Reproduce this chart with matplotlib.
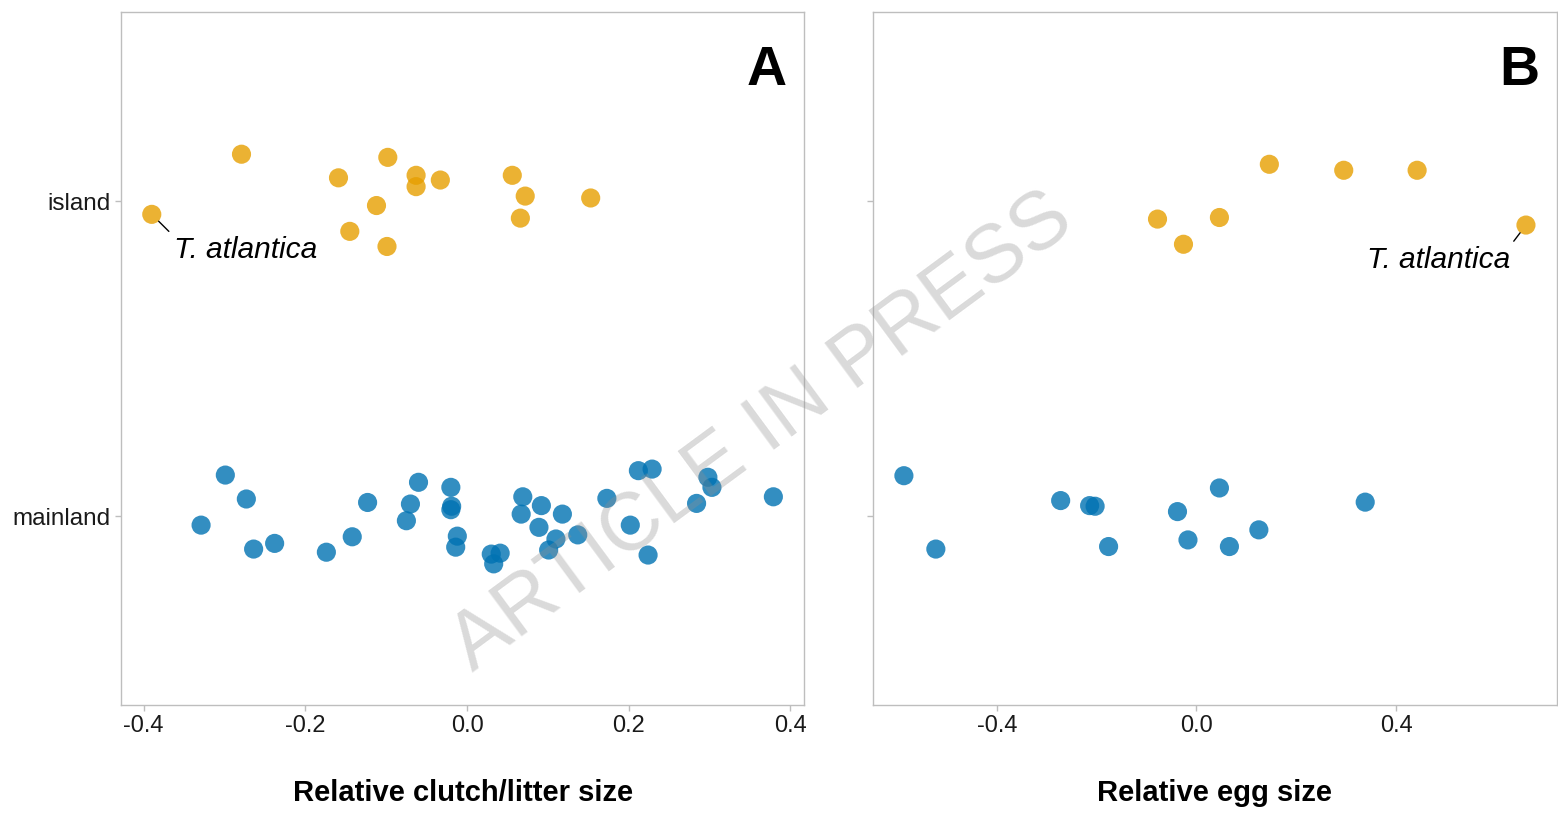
import matplotlib
matplotlib.use("Agg")
import matplotlib.pyplot as plt

plt.rcParams['font.family'] = ['Liberation Sans', 'DejaVu Sans']

# categories on the y axis (mainland = 1, island = 2)
categories = ['mainland', 'island']

# Panel A: relative clutch/litter size (x) with vertical jitter (y)
clutch_island_x = [-0.390, -0.279, -0.159, -0.098, -0.063, -0.063, -0.033,
                   -0.112, -0.145, -0.099, 0.056, 0.072, 0.066, 0.153]
clutch_island_y = [1.958, 2.149, 2.074, 2.139, 2.082, 2.046, 2.067,
                   1.986, 1.904, 1.856, 2.082, 2.016, 1.946, 2.010]
clutch_main_x = [-0.299, -0.273, -0.329, -0.264, -0.238, -0.174, -0.142, -0.123,
                 -0.060, -0.070, -0.075, -0.020, -0.019, -0.020, -0.012, -0.014,
                 0.030, 0.041, 0.033, 0.069, 0.067, 0.092, 0.089, 0.118,
                 0.110, 0.101, 0.137, 0.173, 0.202, 0.212, 0.229, 0.224,
                 0.284, 0.298, 0.303, 0.379]
clutch_main_y = [1.130, 1.054, 0.971, 0.895, 0.913, 0.885, 0.934, 1.043,
                 1.107, 1.038, 0.985, 1.091, 1.031, 1.020, 0.936, 0.901,
                 0.879, 0.882, 0.848, 1.061, 1.006, 1.033, 0.964, 1.006,
                 0.927, 0.892, 0.940, 1.056, 0.971, 1.144, 1.149, 0.876,
                 1.040, 1.123, 1.091, 1.061]

# Panel B: relative egg size
egg_island_x = [-0.078, -0.026, 0.046, 0.146, 0.295, 0.442, 0.660]
egg_island_y = [1.943, 1.863, 1.948, 2.117, 2.098, 2.098, 1.924]
egg_main_x = [-0.586, -0.522, -0.272, -0.214, -0.203, -0.176, -0.038, -0.017,
              0.046, 0.066, 0.125, 0.338]
egg_main_y = [1.128, 0.895, 1.049, 1.033, 1.031, 0.903, 1.014, 0.924,
              1.089, 0.903, 0.956, 1.044]

ORANGE = '#E69F00'
BLUE = '#0072B2'
EDGE = '#BEBEBE'

fig = plt.figure(figsize=(15.58, 8.14), dpi=100)
ax1 = fig.add_axes([0.0777, 0.134, 0.4384, 0.851])
ax2 = fig.add_axes([0.5603, 0.134, 0.4390, 0.851])


def style_axis(ax, xlim, xticks, xlabel, letter, show_ylabels):
    ax.set_xlim(*xlim)
    ax.set_ylim(0.4, 2.6)
    ax.set_yticks([1, 2])
    ax.set_yticklabels(categories if show_ylabels else ['', ''])
    ax.set_xticks(xticks)
    ax.set_xticklabels([f'{t:.1f}' for t in xticks])
    for sp in ax.spines.values():
        sp.set_color(EDGE)
        sp.set_linewidth(1.0)
    ax.tick_params(colors=EDGE, labelcolor='#1a1a1a', labelsize=17,
                   length=4, width=1.0)
    ax.tick_params(axis='y', labelsize=17.5)
    ax.set_xlabel(xlabel, fontsize=21, fontweight='bold', va='center')
    ax.xaxis.set_label_coords(0.5, -0.127)
    ax.text(0.974, 0.895, letter, transform=ax.transAxes, ha='right',
            va='baseline', fontsize=40, fontweight='bold')


# panel A
ax1.scatter(clutch_island_x, clutch_island_y, s=190, color=ORANGE, alpha=0.8,
            edgecolors='none', zorder=3)
ax1.scatter(clutch_main_x, clutch_main_y, s=190, color=BLUE, alpha=0.8,
            edgecolors='none', zorder=3)
style_axis(ax1, (-0.428, 0.417), [-0.4, -0.2, 0.0, 0.2, 0.4],
           'Relative clutch/litter size', 'A', True)
ax1.annotate('T. atlantica', xy=(clutch_island_x[0], clutch_island_y[0]),
             xytext=(-0.363, 1.819), textcoords='data', ha='left', va='baseline',
             fontsize=21.5, style='italic',
             arrowprops=dict(arrowstyle='-', color='black', lw=1.0,
                             relpos=(0, 1), shrinkA=2, shrinkB=7))

# panel B
ax2.scatter(egg_island_x, egg_island_y, s=190, color=ORANGE, alpha=0.8,
            edgecolors='none', zorder=3)
ax2.scatter(egg_main_x, egg_main_y, s=190, color=BLUE, alpha=0.8,
            edgecolors='none', zorder=3)
style_axis(ax2, (-0.648, 0.722), [-0.4, 0.0, 0.4],
           'Relative egg size', 'B', False)
ax2.annotate('T. atlantica', xy=(egg_island_x[-1], egg_island_y[-1]),
             xytext=(0.628, 1.787), textcoords='data', ha='right', va='baseline',
             fontsize=21.5, style='italic',
             arrowprops=dict(arrowstyle='-', color='black', lw=1.0,
                             relpos=(1, 1), shrinkA=2, shrinkB=7))

# watermark
fig.text(0.489, 0.469, 'ARTICLE IN PRESS', fontsize=59, color='#909090',
         alpha=0.33, rotation=36.4, ha='center', va='center',
         rotation_mode='anchor', zorder=10)

fig.savefig('out.png', dpi=100)
